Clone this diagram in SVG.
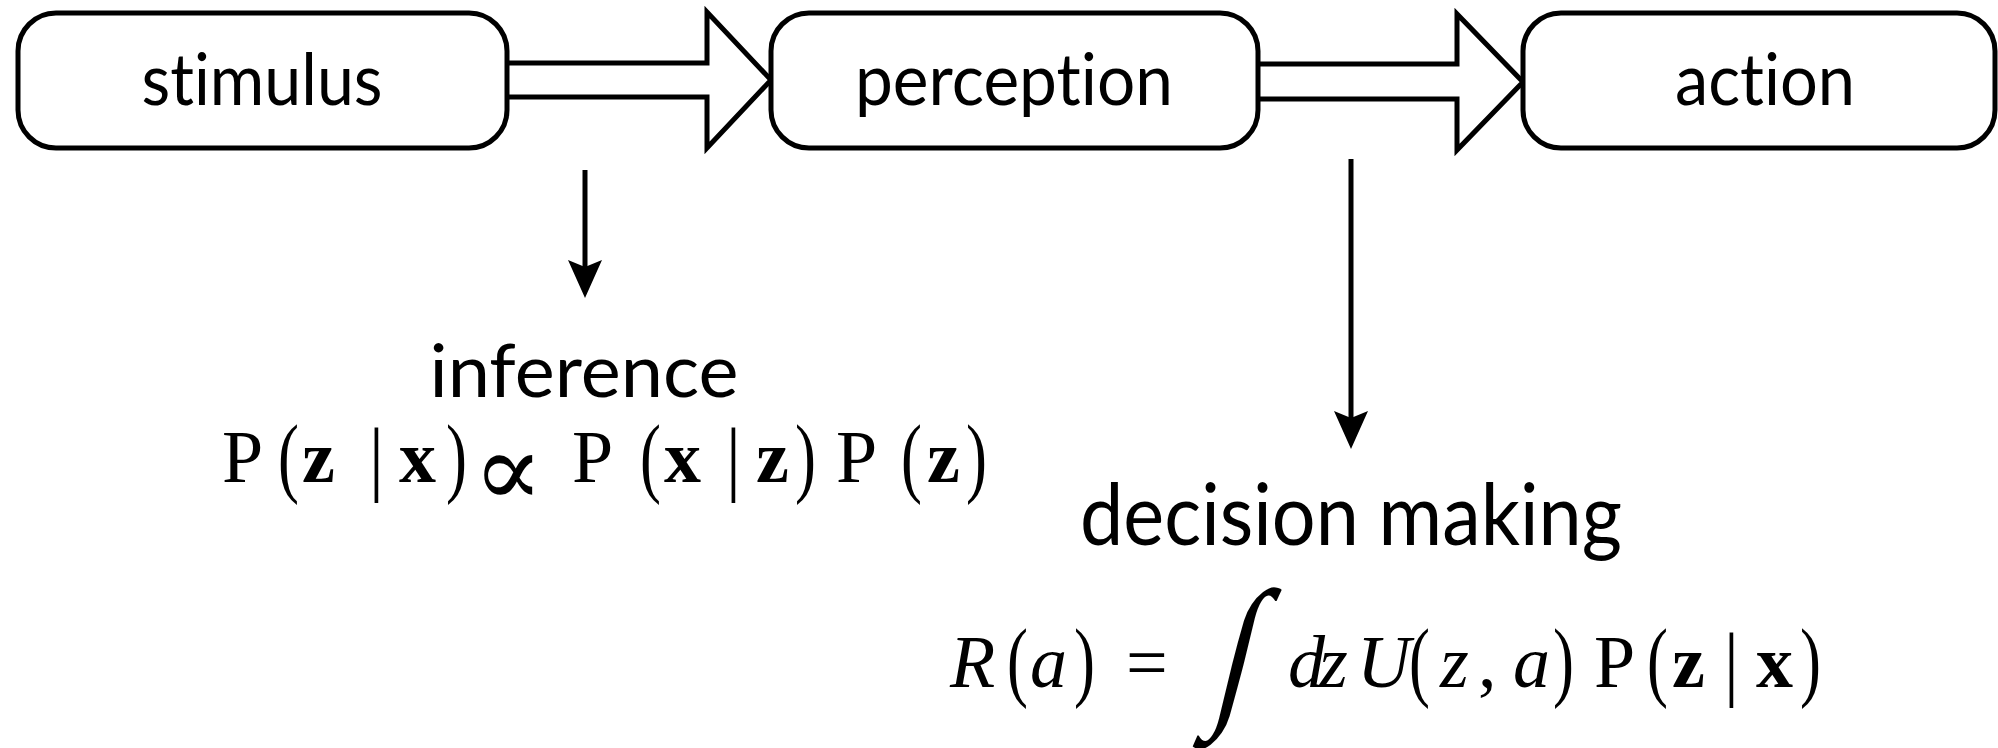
<svg xmlns="http://www.w3.org/2000/svg" width="1998" height="748" viewBox="0 0 1998 748">
<defs>
<style>
.box{fill:#fff;stroke:#000;stroke-width:5}
.fat{fill:#fff;stroke:#000;stroke-width:5;stroke-linejoin:miter;stroke-miterlimit:10}
.ln{stroke:#000;stroke-width:5;fill:none}
.lbl{font-family:"Lato","Open Sans",sans-serif;fill:#000;text-anchor:middle;font-variant-ligatures:none;font-feature-settings:"liga" 0}
.m{font-family:"Liberation Serif","DejaVu Serif",serif;font-size:74px;fill:#000}
.i{font-style:italic}
.b{font-weight:bold}
</style>
<marker id="ah" markerUnits="userSpaceOnUse" viewBox="0 0 38 34" refX="30" refY="17" markerWidth="38" markerHeight="34" orient="auto">
<path d="M0,0 L38,17 L0,34 L7,17 Z" fill="#000"/>
</marker>
</defs>
<rect width="1998" height="748" fill="#fff"/>
<g id="connectors">
<path class="fat" d="M507,63 H707 V12 L771,80 L707,148 V97 H507"/>
<path class="fat" d="M1258,64 H1457 V14 L1523,82 L1457,150 V99 H1258"/>
<line class="ln" x1="585" y1="170" x2="585" y2="290" marker-end="url(#ah)"/>
<line class="ln" x1="1351" y1="159" x2="1351" y2="441" marker-end="url(#ah)"/>
</g>
<g id="stimulus">
<rect class="box" x="18" y="13" width="489" height="135" rx="38"/>
<text class="lbl" x="262" y="105" font-size="72" textLength="241" lengthAdjust="spacingAndGlyphs">stimulus</text>
</g>
<g id="perception">
<rect class="box" x="771" y="13" width="487" height="135" rx="38"/>
<text class="lbl" x="1014" y="105" font-size="72" textLength="318" lengthAdjust="spacingAndGlyphs">perception</text>
</g>
<g id="action">
<rect class="box" x="1523" y="13" width="472" height="135" rx="38"/>
<text class="lbl" x="1765" y="105" font-size="72" textLength="180" lengthAdjust="spacingAndGlyphs">action</text>
</g>
<g id="inference">
<text class="lbl" x="584" y="397" font-size="74" textLength="309" lengthAdjust="spacingAndGlyphs">inference</text>
<text class="m" x="222" y="482">P</text>
<text class="m" transform="translate(278,486) scale(0.85,1.2)">(</text>
<text class="m b" x="302" y="482">z</text>
<text class="m" transform="translate(369,485) scale(1,1.12)">|</text>
<text class="m b" x="399" y="482">x</text>
<text class="m" transform="translate(446,486) scale(0.85,1.2)">)</text>
<text class="m" x="473" y="506" style="font-size:104px">∝</text>
<text class="m" x="572" y="482">P</text>
<text class="m" transform="translate(640,486) scale(0.85,1.2)">(</text>
<text class="m b" x="664" y="482">x</text>
<text class="m" transform="translate(726,485) scale(1,1.12)">|</text>
<text class="m b" x="756" y="482">z</text>
<text class="m" transform="translate(795,486) scale(0.85,1.2)">)</text>
<text class="m" x="836" y="482">P</text>
<text class="m" transform="translate(901,486) scale(0.85,1.2)">(</text>
<text class="m b" x="927" y="482">z</text>
<text class="m" transform="translate(966,486) scale(0.85,1.2)">)</text>
</g>
<g id="decision">
<text class="lbl" x="1351" y="545" font-size="86" textLength="542" lengthAdjust="spacingAndGlyphs">decision making</text>
<text class="m i" x="950" y="687">R</text>
<text class="m" transform="translate(1007,690) scale(0.85,1.2)">(</text>
<text class="m i" x="1030" y="687">a</text>
<text class="m" transform="translate(1074,690) scale(0.85,1.2)">)</text>
<text class="m" x="1126" y="687">=</text>
<text class="m" transform="translate(1210,705) skewX(-14) scale(0.8,1)" style="font-size:165px">∫</text>
<text class="m i" x="1288" y="687">d</text>
<text class="m i" x="1319" y="687">z</text>
<text class="m i" x="1357" y="687">U</text>
<text class="m" transform="translate(1409,690) scale(0.85,1.2)">(</text>
<text class="m i" x="1440" y="687">z</text>
<text class="m" x="1478" y="687">,</text>
<text class="m i" x="1513" y="687">a</text>
<text class="m" transform="translate(1553,690) scale(0.85,1.2)">)</text>
<text class="m" x="1594" y="687">P</text>
<text class="m" transform="translate(1647,690) scale(0.85,1.2)">(</text>
<text class="m b" x="1672" y="687">z</text>
<text class="m" transform="translate(1724,690) scale(1,1.12)">|</text>
<text class="m b" x="1756" y="687">x</text>
<text class="m" transform="translate(1800,690) scale(0.85,1.2)">)</text>
</g>
</svg>
